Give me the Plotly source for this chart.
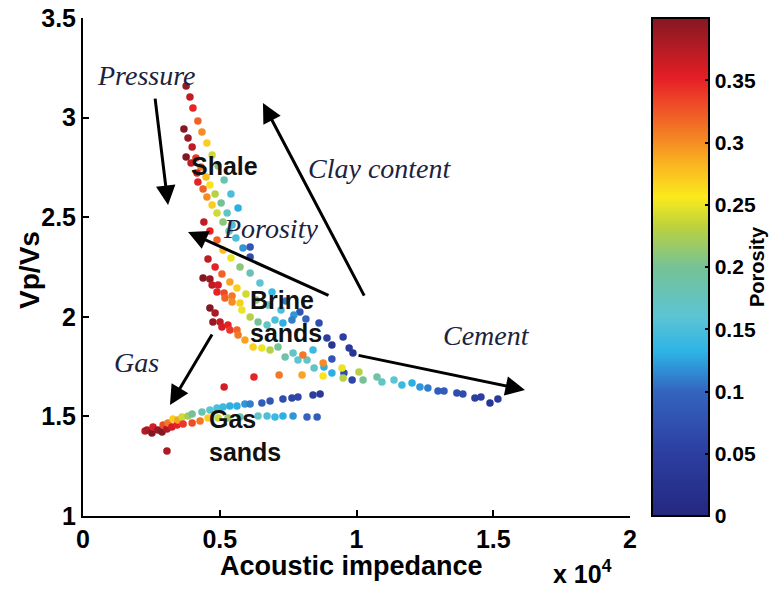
import plotly.graph_objects as go

# ---------------- data (acoustic impedance in units of 1e4, Vp/Vs, porosity) -------------
ai_shale = [0.377, 0.391, 0.402, 0.420, 0.435, 0.453, 0.472, 0.494, 0.516, 0.541, 0.567,
            0.369, 0.384, 0.399, 0.413, 0.431, 0.450, 0.464, 0.483, 0.505, 0.527, 0.545,
            0.377, 0.395, 0.417, 0.420, 0.439, 0.453, 0.472, 0.490, 0.512, 0.534, 0.559, 0.585, 0.611, 0.611,
            0.442, 0.464, 0.490, 0.512, 0.541, 0.574, 0.611, 0.647, 0.691, 0.742, 0.793]
vpvs_shale = [3.159, 3.103, 3.048, 2.983, 2.928, 2.872, 2.812, 2.757, 2.687, 2.616, 2.546,
              2.943, 2.898, 2.852, 2.797, 2.752, 2.702, 2.662, 2.616, 2.571, 2.521, 2.461,
              2.802, 2.772, 2.722, 2.677, 2.642, 2.601, 2.561, 2.521, 2.476, 2.431, 2.396, 2.345, 2.300, 2.350,
              2.476, 2.431, 2.386, 2.335, 2.295, 2.250, 2.220, 2.170, 2.125, 2.079, 2.024]
phi_shale = [0.39, 0.37, 0.35, 0.32, 0.30, 0.27, 0.24, 0.21, 0.18, 0.15, 0.13,
             0.40, 0.39, 0.37, 0.34, 0.31, 0.28, 0.26, 0.23, 0.20, 0.17, 0.15,
             0.40, 0.37, 0.36, 0.35, 0.32, 0.30, 0.27, 0.24, 0.21, 0.18, 0.15, 0.12, 0.07, 0.08,
             0.37, 0.35, 0.32, 0.28, 0.25, 0.21, 0.18, 0.16, 0.14, 0.11, 0.08]

ai_brine = [0.457, 0.483, 0.508, 0.537, 0.563, 0.596, 0.633, 0.676, 0.724, 0.771, 0.815, 0.863, 0.892, 0.910,
            0.951, 0.973, 0.987,
            0.439, 0.464, 0.472, 0.494, 0.490, 0.516, 0.519, 0.545, 0.545, 0.574, 0.581, 0.611, 0.640, 0.673,
            0.702, 0.731, 0.764,
            0.464, 0.483, 0.475, 0.501, 0.508, 0.530, 0.537, 0.563, 0.567, 0.592, 0.622, 0.654, 0.684, 0.713,
            0.739, 0.768, 0.786, 0.819, 0.841, 0.845, 0.881, 0.910, 0.910, 0.954, 0.984,
            0.804, 0.878, 0.878, 0.947, 0.951, 1.009, 1.024, 0.516, 0.625, 0.717, 0.801]
vpvs_brine = [2.290, 2.250, 2.215, 2.175, 2.145, 2.114, 2.084, 2.059, 2.034, 2.009, 1.989, 1.969, 1.894, 1.858,
              1.899, 1.843, 1.818,
              2.195, 2.190, 2.160, 2.160, 2.125, 2.120, 2.094, 2.104, 2.074, 2.069, 2.034, 1.999, 1.974, 1.959,
              1.984, 1.969, 1.984,
              2.044, 2.019, 1.974, 1.974, 1.949, 1.959, 1.934, 1.934, 1.909, 1.884, 1.848, 1.843, 1.833, 1.848,
              1.798, 1.818, 1.783, 1.783, 1.833, 1.743, 1.748, 1.788, 1.718, 1.718, 1.683,
              1.808, 1.768, 1.703, 1.743, 1.693, 1.723, 1.683, 1.648, 1.698, 1.708, 1.708]
phi_brine = [0.37, 0.35, 0.32, 0.29, 0.27, 0.24, 0.21, 0.18, 0.15, 0.12, 0.10, 0.07, 0.05, 0.03,
             0.05, 0.04, 0.03,
             0.40, 0.39, 0.37, 0.36, 0.35, 0.33, 0.32, 0.31, 0.30, 0.27, 0.25, 0.23, 0.20, 0.17,
             0.15, 0.13, 0.11,
             0.40, 0.38, 0.39, 0.37, 0.36, 0.35, 0.34, 0.32, 0.31, 0.29, 0.27, 0.25, 0.23, 0.20,
             0.19, 0.17, 0.16, 0.17, 0.14, 0.17, 0.13, 0.08, 0.13, 0.07, 0.06,
             0.31, 0.30, 0.26, 0.25, 0.23, 0.23, 0.20, 0.36, 0.35, 0.31, 0.29]

ai_cement = [1.075, 1.093, 1.137, 1.166, 1.203, 1.232, 1.261, 1.298, 1.320, 1.367, 1.389, 1.433, 1.455, 1.488, 1.517]
vpvs_cement = [1.698, 1.673, 1.683, 1.658, 1.668, 1.648, 1.643, 1.628, 1.628, 1.617, 1.612, 1.592, 1.597, 1.567, 1.587]
phi_cement = [0.19, 0.17, 0.16, 0.14, 0.13, 0.12, 0.11, 0.09, 0.09, 0.07, 0.07, 0.05, 0.05, 0.03, 0.04]

ai_gas = [0.227, 0.234, 0.252, 0.256, 0.274, 0.289, 0.293, 0.307, 0.311, 0.325, 0.329, 0.344, 0.347, 0.362,
          0.366, 0.384, 0.399, 0.399, 0.428, 0.435, 0.464, 0.490, 0.512, 0.537, 0.563, 0.592, 0.611, 0.654,
          0.684, 0.731, 0.764, 0.786, 0.841, 0.867,
          0.457, 0.494, 0.530, 0.574, 0.640, 0.673, 0.702, 0.731, 0.768, 0.819, 0.856, 0.307]
vpvs_gas = [1.427, 1.432, 1.417, 1.447, 1.432, 1.422, 1.457, 1.437, 1.467, 1.447, 1.487, 1.457, 1.482, 1.497,
            1.462, 1.502, 1.512, 1.467, 1.477, 1.522, 1.532, 1.542, 1.547, 1.552, 1.552, 1.562, 1.562, 1.567,
            1.577, 1.587, 1.592, 1.597, 1.607, 1.612,
            1.492, 1.492, 1.492, 1.497, 1.502, 1.502, 1.497, 1.502, 1.502, 1.497, 1.497, 1.326]
phi_gas = [0.37, 0.38, 0.40, 0.36, 0.39, 0.40, 0.33, 0.38, 0.31, 0.36, 0.27, 0.35, 0.29, 0.24,
           0.34, 0.22, 0.20, 0.33, 0.31, 0.18, 0.16, 0.15, 0.14, 0.13, 0.13, 0.12, 0.11, 0.09,
           0.08, 0.07, 0.06, 0.06, 0.05, 0.04,
           0.27, 0.24, 0.22, 0.19, 0.17, 0.15, 0.14, 0.13, 0.12, 0.10, 0.09, 0.38]

x_ticks = [0, 0.5, 1, 1.5, 2]
y_ticks = [1, 1.5, 2, 2.5, 3, 3.5]
cb_ticks = [0, 0.05, 0.1, 0.15, 0.2, 0.25, 0.3, 0.35]

jet_muted = [
    [0.00, "rgb(36,40,128)"], [0.125, "rgb(44,62,160)"], [0.25, "rgb(52,100,192)"],
    [0.33, "rgb(44,180,230)"], [0.40, "rgb(92,196,212)"], [0.50, "rgb(118,194,150)"],
    [0.58, "rgb(186,210,62)"], [0.64, "rgb(250,234,28)"], [0.70, "rgb(250,186,32)"],
    [0.76, "rgb(244,132,36)"], [0.83, "rgb(238,72,40)"], [0.88, "rgb(228,30,38)"],
    [1.00, "rgb(132,24,34)"]]

SANS = "Liberation Sans, Arial, sans-serif"
SERIF = "Liberation Serif, Times New Roman, serif"

fig = go.Figure()
for xs, ys, ps in [(ai_shale, vpvs_shale, phi_shale), (ai_brine, vpvs_brine, phi_brine),
                   (ai_cement, vpvs_cement, phi_cement), (ai_gas, vpvs_gas, phi_gas)]:
    fig.add_trace(go.Scatter(x=xs, y=ys, mode="markers",
                             marker=dict(size=7.5, color=ps, coloraxis="coloraxis", line=dict(width=0)),
                             showlegend=False, hoverinfo="skip"))

tickfont = dict(family=SANS, size=25, color="black", weight="bold")
fig.update_layout(
    width=771, height=592,
    margin=dict(l=83, r=141, t=18, b=76, autoexpand=False),
    paper_bgcolor="white", plot_bgcolor="white",
    xaxis=dict(range=[0, 2], tickvals=x_ticks, ticktext=[f"{v:g}" for v in x_ticks],
               showgrid=False, zeroline=False, showline=True, linecolor="black", linewidth=2,
               ticks="inside", ticklen=6, tickwidth=2, tickcolor="black", tickfont=tickfont),
    yaxis=dict(range=[1, 3.5], tickvals=y_ticks, ticktext=[f"{v:g}" for v in y_ticks],
               showgrid=False, zeroline=False, showline=True, linecolor="black", linewidth=2,
               ticks="inside", ticklen=6, tickwidth=2, tickcolor="black", tickfont=tickfont),
    coloraxis=dict(cmin=0, cmax=0.4, colorscale=jet_muted,
                   colorbar=dict(x=1.0402, xanchor="left", xpad=0, y=0.5, yanchor="middle", ypad=0,
                                 len=1, lenmode="fraction", thickness=57, thicknessmode="pixels",
                                 outlinewidth=2, outlinecolor="black",
                                 tickvals=cb_ticks, ticktext=[f"{v:g}" for v in cb_ticks],
                                 ticks="inside", ticklen=5, tickwidth=2, tickcolor="black",
                                 tickfont=dict(family=SANS, size=21, color="black", weight="bold"),
                                 title=dict(text="Porosity", side="right",
                                            font=dict(family=SANS, size=20, color="black", weight="bold")))),
)

ann = []
# axis titles
ann.append(dict(text="Acoustic impedance", xref="paper", yref="paper", x=0.49, y=-0.100,
                xanchor="center", yanchor="middle",
                showarrow=False, font=dict(family=SANS, size=27, color="black", weight="bold")))
ann.append(dict(text="x 10<sup>4</sup>", xref="paper", yref="paper", x=0.914, y=-0.112,
                xanchor="center", yanchor="middle",
                showarrow=False, font=dict(family=SANS, size=25, color="black", weight="bold")))
ann.append(dict(text="Vp/Vs", xref="paper", yref="paper", x=-0.097, y=0.494, textangle=-90,
                xanchor="center", yanchor="middle",
                showarrow=False, font=dict(family=SANS, size=28, color="black", weight="bold")))

# arrows (head at x,y ; tail at ax,ay)
arrows = [
    (0.311, 2.561, 0.263, 3.103),   # pressure
    (0.658, 3.073, 1.031, 2.099),   # clay content
    (0.384, 2.426, 0.903, 2.104),   # porosity
    (0.318, 1.557, 0.475, 1.919),   # gas
    (1.616, 1.633, 1.002, 1.808),   # cement
]
for hx, hy, tx, ty in arrows:
    ann.append(dict(x=hx, y=hy, ax=tx, ay=ty, xref="x", yref="y", axref="x", ayref="y",
                    text="", showarrow=True, arrowhead=2, arrowsize=1.3, arrowwidth=3,
                    arrowcolor="black"))

ital = dict(family=SERIF, size=28, color="#1b2340", style="italic")
bold = dict(family=SANS, size=25, color="#111111", weight="bold")
ann += [
    dict(text="Pressure", x=0.230, y=3.209, xref="x", yref="y", showarrow=False, font=ital),
    dict(text="Clay content", x=1.086, y=2.747, xref="x", yref="y", showarrow=False, font=ital),
    dict(text="Porosity", x=0.687, y=2.441, xref="x", yref="y", showarrow=False, font=ital),
    dict(text="Cement", x=1.477, y=1.904, xref="x", yref="y", showarrow=False, font=ital),
    dict(text="Gas", x=0.194, y=1.773, xref="x", yref="y", showarrow=False, font=ital),
    dict(text="Shale", x=0.519, y=2.757, xref="x", yref="y", showarrow=False, font=bold),
    dict(text="Brine<br>sands", x=0.603, y=2.004, xref="x", yref="y", xanchor="left", align="left",
         showarrow=False, font=bold),
    dict(text="Gas<br>sands", x=0.453, y=1.402, xref="x", yref="y", xanchor="left", align="left",
         showarrow=False, font=bold),
]
fig.update_layout(annotations=ann)

fig.write_html("out.html")
